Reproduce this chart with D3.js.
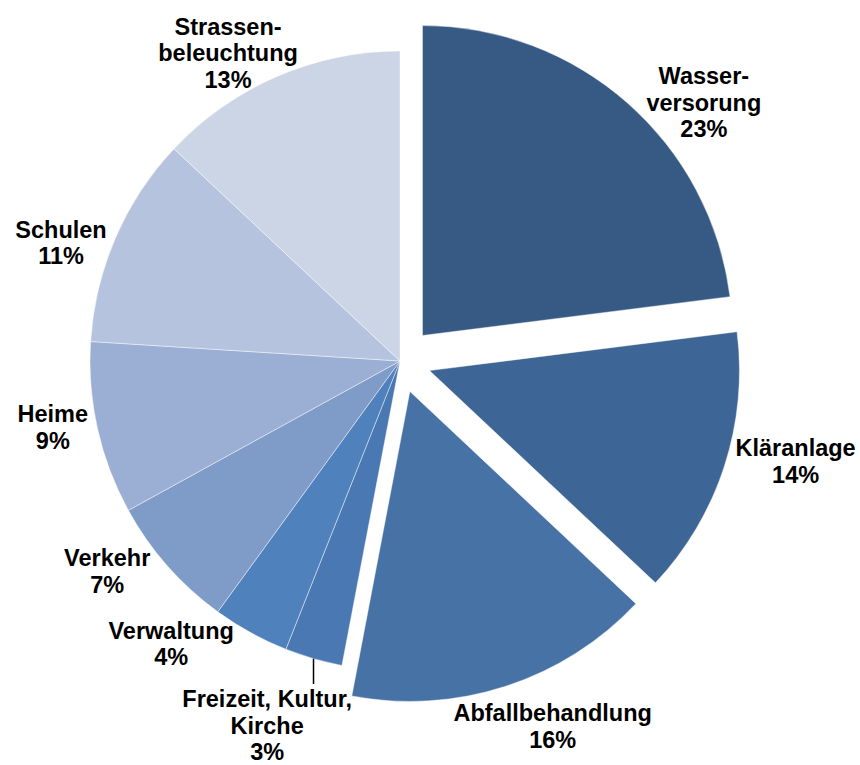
<!DOCTYPE html>
<html>
<head>
<meta charset="utf-8">
<script src="https://cdn.jsdelivr.net/npm/d3@7"></script>
<style>
  body { margin: 0; background: #fff; }
  text { font-family: "Liberation Sans", Arial, sans-serif; font-weight: bold; font-size: 23.5px; fill: #000; }
</style>
</head>
<body>
<div id="canvas"></div>
<script>
const categories = ['Wasser-\nversorung', 'Kläranlage', 'Abfallbehandlung', 'Freizeit, Kultur,\nKirche', 'Verwaltung', 'Verkehr', 'Heime', 'Schulen', 'Strassen-\nbeleuchtung'];
const shares = [23, 14, 16, 3, 4, 7, 9, 11, 13];

const colors = ['#365a84', '#3d6595', '#4672a6', '#4a78b2', '#4f81bd', '#7f9cc8', '#9bafd4', '#b5c3de', '#ccd5e6'];
const explode = [34, 31, 32, 0, 0, 0, 0, 0, 0];
// label nudges away from the plain radial spot
const nudge = [[40, 42], [19, -21], [30, -11], [-31, 15], [-53, -36], [-19, -30], [9, -12], [-4, 28], [-27, 28]];

const w = 860;
const h = 765;
const cx = 400;
const cy = 361;
const r = 310;
const labelR = 365;
const lineH = 26.5;

const svg = d3.select('#canvas')
              .append('svg')
              .attr('width', w)
              .attr('height', h);

const pie = d3.pie().sort(null).value((d) => d);
const arcs = pie(shares);

const arc = d3.arc().innerRadius(0).outerRadius(r);
const labelArc = d3.arc().innerRadius(labelR).outerRadius(labelR);
const edgeArc = d3.arc().innerRadius(r).outerRadius(r);

function shift(d, i) {
  const a = (d.startAngle + d.endAngle) / 2;
  return [explode[i] * Math.sin(a), -explode[i] * Math.cos(a)];
}

const g = svg.append('g').attr('transform', 'translate(' + cx + ', ' + cy + ')');

g.selectAll('path')
  .data(arcs)
  .enter()
  .append('path')
  .attr('d', arc)
  .attr('transform', (d, i) => 'translate(' + shift(d, i) + ')')
  .attr('fill', (d, i) => colors[i])
  .attr('stroke', 'rgba(255,255,255,0.55)')
  .attr('stroke-width', 0.8);

g.selectAll('text.lbl')
  .data(arcs)
  .enter()
  .append('text')
  .attr('class', 'lbl')
  .attr('text-anchor', 'middle')
  .each(function(d, i) {
    const c = labelArc.centroid(d);
    const s = shift(d, i);
    const x = c[0] + s[0] + nudge[i][0];
    const y = c[1] + s[1] + nudge[i][1];
    const lines = categories[i].split('\n').concat([shares[i] + '%']);
    const y0 = y - (lines.length - 1) * lineH / 2 + 7;
    const t = d3.select(this);
    lines.forEach((l, k) => {
      t.append('tspan').attr('x', x).attr('y', y0 + k * lineH).text(l);
    });
  });

// leader line for the small slice
const small = arcs[3];
const p = edgeArc.centroid(small);
const lc = labelArc.centroid(small);
const lineEnd = lc[1] + nudge[3][1] - (3 - 1) * lineH / 2 + 7 - 23;
g.append('line')
  .attr('x1', p[0])
  .attr('y1', p[1])
  .attr('x2', p[0])
  .attr('y2', lineEnd)
  .attr('stroke', '#000')
  .attr('stroke-width', 1.5);
</script>
</body>
</html>
